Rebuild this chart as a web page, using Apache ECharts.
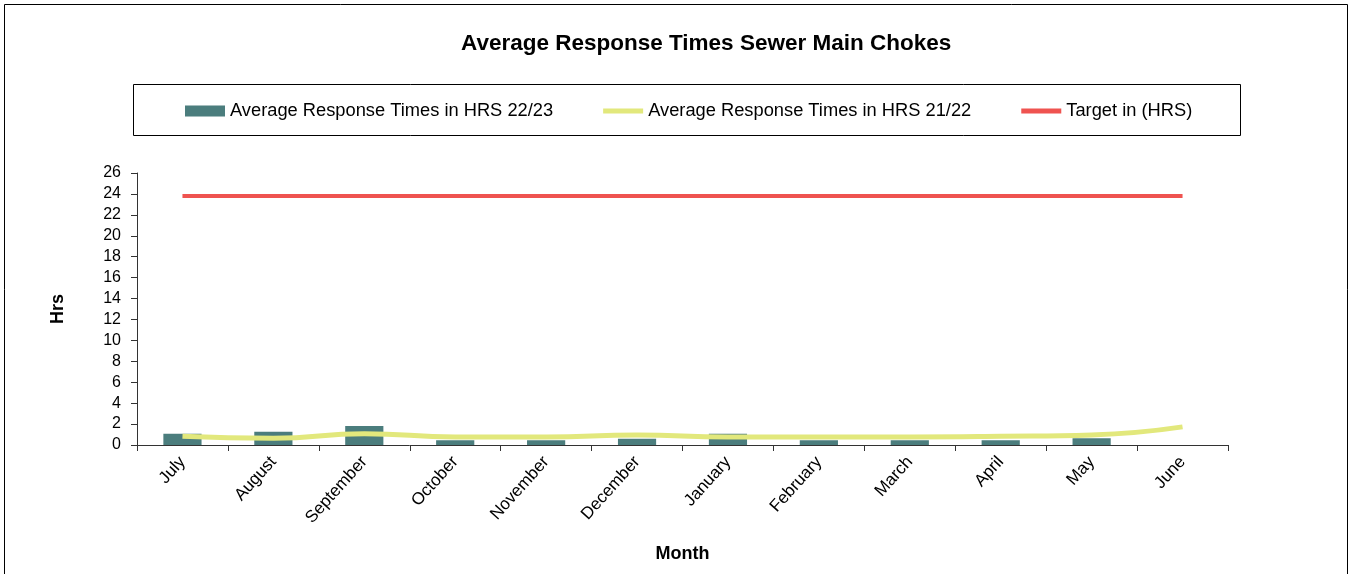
<!DOCTYPE html>
<html lang="en">
<head>
    <meta charset="UTF-8">
    <title>Average Response Times Sewer Main Chokes</title>
    <script type="text/javascript" src="https://cdn.jsdelivr.net/npm/echarts@6/dist/echarts.min.js"></script>
    <style>
        body{
            padding: 0px;
            margin: 0px;
            background-color: #ffffff;
        }
        #chart{
            width: 1352px;
            height: 574px;
        }
    </style>
</head>
<body>
    <div id="chart"></div>
    <script>
        var months = ['July', 'August', 'September', 'October', 'November', 'December',
            'January', 'February', 'March', 'April', 'May', 'June'];
        var resp2223 = [1.08, 1.27, 1.82, 0.45, 0.45, 0.6, 1.08, 0.45, 0.45, 0.45, 0.64, null];
        var resp2122 = [0.83, 0.64, 1.08, 0.77, 0.77, 0.96, 0.77, 0.77, 0.77, 0.83, 0.96, 1.73];
        var target = [23.8, 23.8, 23.8, 23.8, 23.8, 23.8, 23.8, 23.8, 23.8, 23.8, 23.8, 23.8];
        var yTicks = [0, 26, 2];

        var font = 'Liberation Sans, Arial, sans-serif';
        // thin bar used as legend icon for the two lines
        var lineIcon = 'path://M0,0L40,0L40,5L0,5Z';
        var chart = echarts.init(document.getElementById('chart'));

        chart.setOption({
            animation: false,
            textStyle: {fontFamily: font},
            title: {
                text: 'Average Response Times Sewer Main Chokes',
                left: 456,
                top: 27,
                textStyle: {fontSize: 22.5, fontWeight: 'bold', color: '#000', fontFamily: font}
            },
            graphic: [
                {type: 'rect', shape: {x: 4.5, y: 4.5, width: 1343, height: 600},
                    style: {fill: 'none', stroke: '#000', lineWidth: 1}},
                {type: 'rect', shape: {x: 133.5, y: 84.5, width: 1107, height: 51},
                    style: {fill: 'none', stroke: '#000', lineWidth: 1}}
            ],
            legend: {
                left: 180,
                top: 97,
                itemWidth: 40,
                itemHeight: 11,
                itemGap: 50,
                textStyle: {fontSize: 18.3, color: '#000', fontFamily: font},
                data: [
                    {name: 'Average Response Times in HRS 22/23', icon: 'rect'},
                    {name: 'Average Response Times in HRS 21/22', icon: lineIcon},
                    {name: 'Target in (HRS)', icon: lineIcon}
                ]
            },
            grid: {left: 137, right: 124, top: 173, bottom: 129},
            xAxis: {
                type: 'category',
                data: months,
                name: 'Month',
                nameLocation: 'middle',
                nameGap: 100,
                nameTextStyle: {fontSize: 18, fontWeight: 'bold', color: '#000'},
                axisLine: {lineStyle: {color: '#333'}},
                axisTick: {show: true, length: 6, lineStyle: {color: '#333'}},
                axisLabel: {rotate: 48, fontSize: 17, color: '#000', margin: 14}
            },
            yAxis: {
                type: 'value',
                min: yTicks[0],
                max: yTicks[1],
                interval: yTicks[2],
                name: 'Hrs',
                nameLocation: 'middle',
                nameGap: 70,
                nameTextStyle: {fontSize: 18, fontWeight: 'bold', color: '#000'},
                splitLine: {show: false},
                axisLine: {show: true, lineStyle: {color: '#333'}},
                axisTick: {show: true, length: 6, lineStyle: {color: '#333'}},
                axisLabel: {fontSize: 16, color: '#000', margin: 16}
            },
            series: [
                {
                    name: 'Average Response Times in HRS 22/23',
                    type: 'bar',
                    data: resp2223,
                    barWidth: '42%',
                    itemStyle: {color: '#4b7d7d'}
                },
                {
                    name: 'Average Response Times in HRS 21/22',
                    type: 'line',
                    data: resp2122,
                    smooth: true,
                    symbol: 'none',
                    lineStyle: {color: '#e2e87c', width: 5},
                    itemStyle: {color: '#e2e87c'}
                },
                {
                    name: 'Target in (HRS)',
                    type: 'line',
                    data: target,
                    symbol: 'none',
                    lineStyle: {color: '#ef5350', width: 4},
                    itemStyle: {color: '#ef5350'}
                }
            ]
        });
    </script>
</body>
</html>
